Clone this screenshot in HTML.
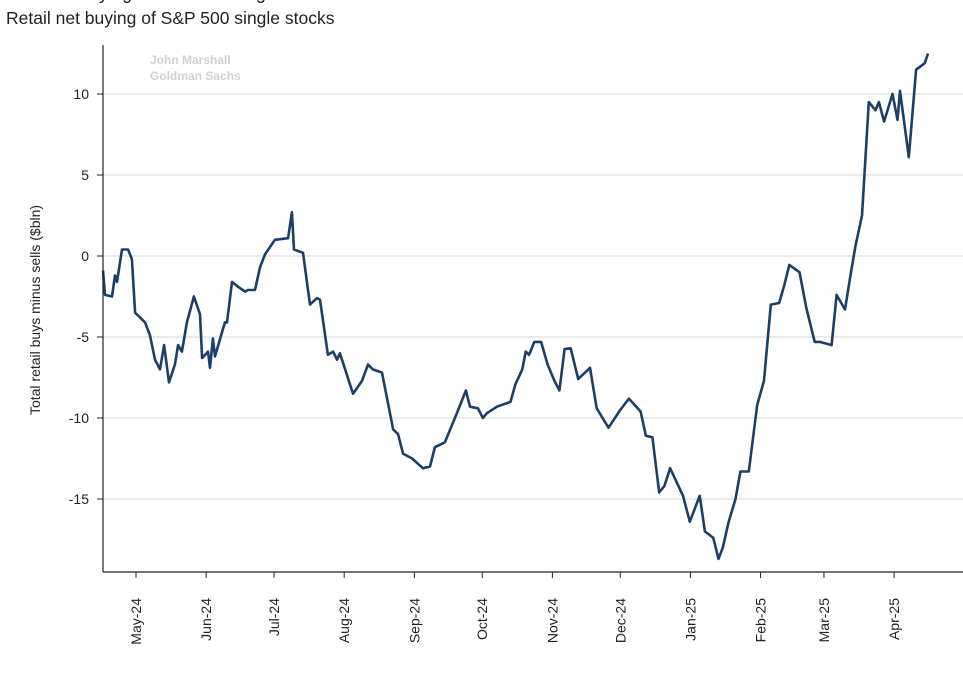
<!DOCTYPE html>
<html><head><meta charset="utf-8"><style>
body{margin:0;background:#fff;width:963px;height:668px;overflow:hidden;font-family:"Liberation Sans",sans-serif;}
</style></head><body>
<svg width="963" height="668" xmlns="http://www.w3.org/2000/svg" style="font-family:'Liberation Sans',sans-serif">
<text x="6" y="-1" font-size="18" fill="#222">Total net buying of S&amp;P 500 single stocks</text>
<text x="6" y="24" font-size="17.5" fill="#222">Retail net buying of S&amp;P 500 single stocks</text>
<text x="150" y="64" font-size="12" font-weight="bold" fill="#d0d0d0">John Marshall</text>
<text x="150" y="80" font-size="12" font-weight="bold" fill="#d0d0d0">Goldman Sachs</text>
<text transform="translate(40,310) rotate(-90)" text-anchor="middle" font-size="14" fill="#222">Total retail buys minus sells ($bln)</text>
<g id="grid"></g><g id="yaxis"></g><g id="xaxis"></g><g id="series"></g>
<line x1="103" y1="45" x2="103" y2="572" stroke="#222" stroke-width="1.2"/>
<line x1="103" y1="572" x2="963" y2="572" stroke="#222" stroke-width="1.2"/>
</svg>
<script>
// days since 2024-05-01
const days=[-14.6,-13.7,-10.6,-9.3,-8.4,-6.2,-3.5,-1.8,-0.4,1.8,4,6.2,8.4,10.6,12.4,14.6,17.2,18.6,20.3,22.5,25.6,28.3,29.2,31.8,32.7,34,34.9,39.3,40.2,42.4,45.1,48.2,49.5,52.6,54.8,57,61.4,67.2,68.9,69.8,73.8,76.9,80,81.3,84.8,87.1,88.8,90.1,95.9,99.9,102.5,104.7,108.7,113.6,115.8,118,122,126.8,129.9,132.1,136.5,141.8,145.8,147.6,151.1,153.3,155.1,159.5,165.5,167.7,170.7,172.2,173.7,176,179,181.9,184.9,187.1,189.4,192.1,195.4,200.6,203.6,208.8,214,217.8,223,225.3,228.2,231.2,233.5,236,241.7,244.7,249.1,251.4,255.1,257.4,259.3,261.9,264.9,267.1,270.8,274.5,277.5,280.5,284.2,286.5,288.7,293.2,296.2,299.9,302.2,307.4,309.6,313.3,315.6,317.9,320.8,323.8,326.8,328.3,330.6,334.3,336.5,337.6,341.5,344.7,348.5,350];
const values=[-0.9,-2.4,-2.5,-1.2,-1.6,0.4,0.4,-0.2,-3.5,-3.8,-4.1,-4.9,-6.4,-7.0,-5.5,-7.8,-6.7,-5.5,-5.9,-4.1,-2.5,-3.6,-6.3,-5.9,-6.9,-5.1,-6.2,-4.1,-4.1,-1.6,-1.9,-2.2,-2.1,-2.1,-0.7,0.1,1.0,1.1,2.7,0.4,0.2,-3.0,-2.6,-2.7,-6.1,-5.9,-6.4,-6.0,-8.5,-7.7,-6.7,-7.0,-7.2,-10.7,-11.0,-12.2,-12.5,-13.1,-13.0,-11.8,-11.5,-9.7,-8.3,-9.3,-9.4,-10.0,-9.7,-9.3,-9.0,-7.9,-7.0,-5.9,-6.1,-5.3,-5.3,-6.7,-7.7,-8.3,-5.75,-5.7,-7.6,-6.9,-9.4,-10.6,-9.5,-8.8,-9.6,-11.1,-11.2,-14.6,-14.2,-13.1,-14.8,-16.4,-14.8,-17.0,-17.4,-18.7,-18.0,-16.4,-15.0,-13.3,-13.3,-9.2,-7.7,-3.0,-2.9,-1.8,-0.55,-1.0,-3.2,-5.3,-5.3,-5.5,-2.4,-3.3,-1.3,0.6,2.5,9.5,9.0,9.5,8.3,10.0,8.4,10.2,6.1,11.5,11.9,12.5];
const yTicks=[10,5,0,-5,-10,-15];
const xTickLabels=["May-24","Jun-24","Jul-24","Aug-24","Sep-24","Oct-24","Nov-24","Dec-24","Jan-25","Feb-25","Mar-25","Apr-25"];
const xTickDays=[0,31,61,92,123,153,184,214,245,276,304,335];
const NS="http://www.w3.org/2000/svg";
const xs=d=>136+d*2.263, ys=v=>256-v*16.2;
function mk(t,a,p){const e=document.createElementNS(NS,t);for(const k in a)e.setAttribute(k,a[k]);document.getElementById(p).appendChild(e);return e;}
yTicks.forEach(v=>{
  const g=mk('line',{x1:103,x2:963,y1:ys(v),y2:ys(v),stroke:'#e3e3e3','stroke-width':1.5},'grid');
  
  
  const t=mk('line',{x1:97,x2:103,y1:ys(v),y2:ys(v),stroke:'#222'},'yaxis');
  
  
  const l=mk('text',{x:89,y:ys(v)+5,'text-anchor':'end','font-size':14,fill:'#222'},'yaxis');
  l.textContent=v;
  
  
});
xTickLabels.forEach((s,i)=>{
  const x=xs(xTickDays[i]);
  const t=mk('line',{x1:x,x2:x,y1:572,y2:578,stroke:'#222'},'xaxis');
  
  
  const l=mk('text',{transform:`translate(${x+5},598) rotate(-90)`,'text-anchor':'end','font-size':14,fill:'#222'},'xaxis');
  l.textContent=s;
  
  
});
const d=days.map((v,i)=>(i?'L':'M')+xs(v).toFixed(1)+','+ys(values[i]).toFixed(1)).join('');
const p=mk('path',{d:d,fill:'none',stroke:'#1c3f68','stroke-width':2.6,'stroke-linejoin':'round'},'series');


</script>
</body></html>
